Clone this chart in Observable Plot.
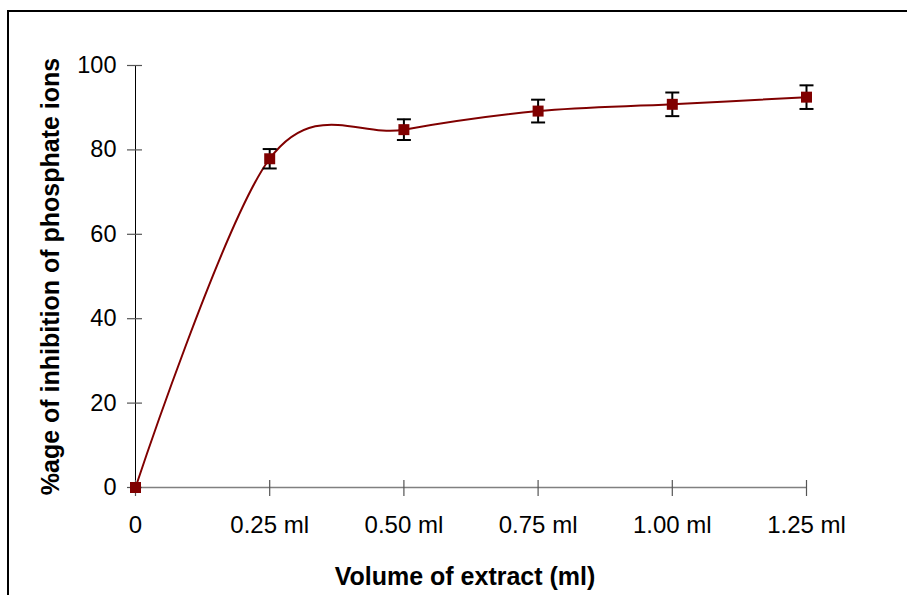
<!DOCTYPE html>
<html>
<head>
<meta charset="utf-8">
<script src="https://cdn.jsdelivr.net/npm/d3@7"></script>
<script src="https://cdn.jsdelivr.net/npm/@observablehq/plot@0.6"></script>
<style>
  html, body { margin: 0; padding: 0; background: #fff; overflow: hidden; }
  #wrap { position: relative; width: 907px; height: 595px; overflow: hidden; }
  #frame { position: absolute; left: 7px; top: 10px; width: 1000px; height: 800px; border: 2px solid #000; box-sizing: border-box; pointer-events: none; }
  #chart { position: absolute; left: 0; top: 0; }
</style>
</head>
<body>
<div id="wrap"><div id="chart"></div><div id="frame"></div></div>
<script>
const volumes = [0, 0.25, 0.5, 0.75, 1.0, 1.25];
const inhibition = [0, 77.9, 84.8, 89.2, 90.8, 92.5];
const errors = [0, 2.3, 2.45, 2.7, 2.8, 2.8];
const xTickValues = [0, 0.25, 0.5, 0.75, 1.0, 1.25];
const xTickLabels = ["0", "0.25 ml", "0.50 ml", "0.75 ml", "1.00 ml", "1.25 ml"];
const yTickValues = [0, 20, 40, 60, 80, 100];
const xTitle = "Volume of extract (ml)";
const yTitle = "%age of inhibition of phosphate ions";

const data = volumes.map((v, i) => ({x: v, y: inhibition[i], lo: inhibition[i] - errors[i], hi: inhibition[i] + errors[i], e: errors[i]}));
const withErr = data.filter(d => d.e > 0);

const capSymbol = {
  draw(context) {
    context.moveTo(-7, 0);
    context.lineTo(7, 0);
  }
};

const labelFor = v => xTickLabels[xTickValues.indexOf(v)];

const plot = Plot.plot({
  width: 907,
  height: 595,
  marginLeft: 135,
  marginRight: 101,
  marginTop: 65,
  marginBottom: 108,
  style: {fontFamily: "'Liberation Sans', Arial, sans-serif", fontSize: "24px", color: "#000", background: "transparent", overflow: "visible"},
  x: {domain: [0, 1.25]},
  y: {domain: [0, 100]},
  marks: [
    Plot.ruleY([0], {stroke: "#808080", strokeWidth: 1.5}),
    Plot.ruleX([0], {stroke: "#000", strokeWidth: 1}),
    Plot.axisY({ticks: yTickValues, tickSize: 15, dx: 7, text: null, stroke: "#555", strokeWidth: 1.2, label: null}),
    Plot.axisY({ticks: yTickValues, tickSize: 0, tickPadding: 19, fontSize: 23.5, label: null}),
    Plot.axisX({ticks: xTickValues, tickSize: 16, dy: -7, text: null, stroke: "#555", strokeWidth: 1.2, label: null}),
    Plot.axisX({ticks: xTickValues, tickSize: 0, tickPadding: 28, tickFormat: labelFor, fontSize: 24, label: null}),
    Plot.text([xTitle], {frameAnchor: "bottom", text: d => d, dy: 80, dx: -6, fontWeight: "bold", fontSize: 25, lineAnchor: "top"}),
    Plot.text([yTitle], {frameAnchor: "left", text: d => d, dx: -85, dy: 0, rotate: -90, textAnchor: "middle", fontWeight: "bold", fontSize: 25}),
    Plot.line(data, {x: "x", y: "y", stroke: "#800000", strokeWidth: 2, curve: "cardinal"}),
    Plot.ruleX(withErr, {x: "x", y1: "lo", y2: "hi", stroke: "#000", strokeWidth: 2}),
    Plot.dot(withErr, {x: "x", y: "lo", symbol: capSymbol, stroke: "#000", strokeWidth: 2, fill: "none"}),
    Plot.dot(withErr, {x: "x", y: "hi", symbol: capSymbol, stroke: "#000", strokeWidth: 2, fill: "none"}),
    Plot.dot(data, {x: "x", y: "y", symbol: "square", r: 6.2, fill: "#800000", stroke: "none"})
  ]
});
document.getElementById("chart").appendChild(plot);
</script>
</body>
</html>
